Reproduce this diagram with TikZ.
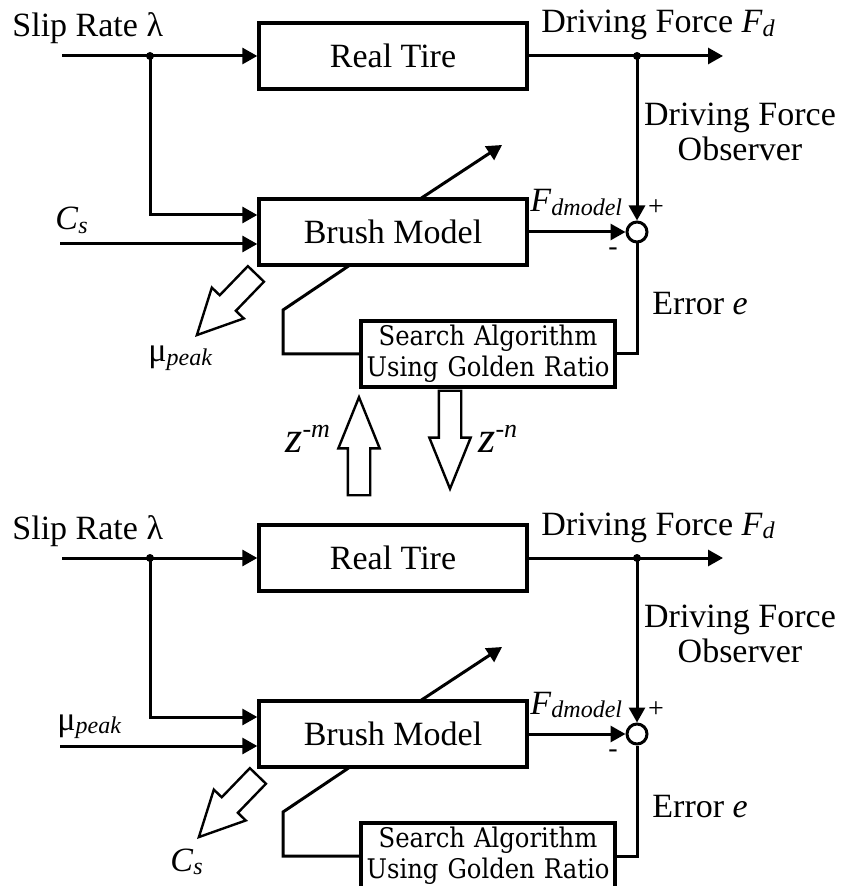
\documentclass[tikz,border=0pt]{standalone}
\usepackage{fontspec}
\setmainfont{Liberation Serif}
\newfontfamily\searchfont[FakeStretch=0.9]{DejaVu Serif}
\usetikzlibrary{arrows.meta, shapes.arrows, backgrounds}
\tikzstyle{block} = [rectangle, minimum width=134pt, minimum height=33pt, text centered, draw=black, line width=1.7pt, fill=white, font=\fontsize{17}{20}\selectfont]
\tikzstyle{searchbox} = [rectangle, minimum width=127pt, minimum height=33pt, text width=125pt, align=center, inner sep=0pt, draw=black, line width=1.7pt, fill=white, font=\searchfont\fontsize{13.5}{15.5}\selectfont]
\tikzstyle{sum} = [circle, minimum size=10pt, inner sep=0pt, draw=black, line width=1.5pt, fill=white]
\tikzstyle{dot} = [circle, minimum size=4pt, inner sep=0pt, fill=black]
\tikzstyle{tag} = [inner sep=0pt, font=\fontsize{17}{17.5}\selectfont]
\tikzstyle{sign} = [inner sep=0pt, font=\fontsize{14}{16}\selectfont]
\tikzstyle{wire} = [line width=1.5pt]
\tikzstyle{arrow} = [line width=1.5pt, -{Triangle[length=7.5pt,width=8pt]}]
\tikzstyle{fatarrow} = [single arrow, draw=black, line width=1.2pt, fill=white, inner sep=5pt, anchor=tip]
\newcommand{\lowsub}[1]{\raisebox{-0.25ex}{\fontsize{12}{14}\selectfont\itshape #1}}
\newcommand{\zpow}[1]{{\fontsize{22}{24}\selectfont\itshape z}\raisebox{7.5pt}{\fontsize{13}{15}\selectfont\itshape #1}}

\begin{document}
\begin{tikzpicture}[x=0.5pt, y=-0.5pt]
    \useasboundingbox (0,0) rectangle (842,886);

    % Upper loop: nodes
    \node (tireA) [block] at (393,56) {Real Tire};
    \node (brushA) [block] at (393,232) {Brush Model};
    \node (searchA) [searchbox] at (488,354) {Search Algorithm\\Using Golden Ratio};
    \node (sumA) [sum] at (637,232) {};
    \node (splitA) [dot] at (150,56) {};
    \node (takeA) [dot] at (637,56) {};
    \coordinate (inA) at (62,56);
    \coordinate (outA) at (723,56);
    \coordinate (csA) at (60,244);
    \coordinate (bendA) at (283,310);
    \coordinate (tuneA) at (502,145);

    % Upper loop: labels
    \node (slipA) [tag, anchor=base west] at (12,37) {Slip Rate λ};
    \node (forceA) [tag, anchor=base west] at (541,33) {Driving Force \textit{F}\lowsub{d}};
    \node (obsA) [tag, align=center] at (740,132) {Driving Force\\Observer};
    \node (errA) [tag, anchor=base west] at (652,315) {Error \textit{e}};
    \node (csTagA) [tag, anchor=base west] at (55,230) {\textit{C}\lowsub{s}};
    \node (fmodA) [tag, anchor=base west] at (530,212) {\textit{F}\lowsub{dmodel}};
    \node (plusA) [sign] at (656,208) {+};
    \node (minusA) [sign] at (613,252) {-};
    \node (muTagA) [tag, anchor=base west] at (148,362) {μ\lowsub{peak}};

    % Upper loop: arrows
    \draw [arrow] (inA) -- (tireA.west);
    \draw [arrow] (splitA.center) |- ([yshift=8.5pt]brushA.west);
    \draw [arrow] (csA) -- ([yshift=-6pt]brushA.west);
    \draw [arrow] (tireA.east) -- (outA);
    \draw [arrow] (takeA.center) -- (sumA.north);
    \draw [arrow] (brushA.east) -- (sumA.west);
    \draw [wire] (sumA.south) |- (searchA.east);
    \begin{scope}[on background layer]
        \draw [arrow] (searchA.west) -| (bendA) -- (350,265) -- (420,199) -- (tuneA);
    \end{scope}
    \node (muOutA) [fatarrow, rotate=226, minimum height=42.5pt, minimum width=21pt, single arrow head extend=5.5pt, single arrow tip angle=53] at (195,337) {};

    % Exchange between the loops
    \node (upArrow) [fatarrow, rotate=90, minimum height=49pt, minimum width=19.5pt, single arrow head extend=4.75pt, single arrow tip angle=44] at (359,394) {};
    \node (downArrow) [fatarrow, rotate=-90, minimum height=49pt, minimum width=19.5pt, single arrow head extend=4.75pt, single arrow tip angle=44] at (450,492) {};
    \node (zmTag) [tag, anchor=base west] at (285,452) {\zpow{-m}};
    \node (znTag) [tag, anchor=base west] at (478,452) {\zpow{-n}};

    % Lower loop: nodes
    \node (tireB) [block] at (393,558) {Real Tire};
    \node (brushB) [block] at (393,734) {Brush Model};
    \node (searchB) [searchbox] at (488,856) {Search Algorithm\\Using Golden Ratio};
    \node (sumB) [sum] at (637,734) {};
    \node (splitB) [dot] at (150,558) {};
    \node (takeB) [dot] at (637,558) {};
    \coordinate (inB) at (62,558);
    \coordinate (outB) at (723,558);
    \coordinate (muB) at (60,746);
    \coordinate (bendB) at (283,812);
    \coordinate (tuneB) at (502,647);

    % Lower loop: labels
    \node (slipB) [tag, anchor=base west] at (12,539) {Slip Rate λ};
    \node (forceB) [tag, anchor=base west] at (541,535) {Driving Force \textit{F}\lowsub{d}};
    \node (obsB) [tag, align=center] at (740,634) {Driving Force\\Observer};
    \node (errB) [tag, anchor=base west] at (652,817) {Error \textit{e}};
    \node (muTagB) [tag, anchor=base west] at (57,730) {μ\lowsub{peak}};
    \node (fmodB) [tag, anchor=base west] at (530,714) {\textit{F}\lowsub{dmodel}};
    \node (plusB) [sign] at (656,710) {+};
    \node (minusB) [sign] at (613,754) {-};
    \node (csTagB) [tag, anchor=base west] at (170,871) {\textit{C}\lowsub{s}};

    % Lower loop: arrows
    \draw [arrow] (inB) -- (tireB.west);
    \draw [arrow] (splitB.center) |- ([yshift=8.5pt]brushB.west);
    \draw [arrow] (muB) -- ([yshift=-6pt]brushB.west);
    \draw [arrow] (tireB.east) -- (outB);
    \draw [arrow] (takeB.center) -- (sumB.north);
    \draw [arrow] (brushB.east) -- (sumB.west);
    \draw [wire] (sumB.south) |- (searchB.east);
    \begin{scope}[on background layer]
        \draw [arrow] (searchB.west) -| (bendB) -- (350,767) -- (420,701) -- (tuneB);
    \end{scope}
    \node (csOutB) [fatarrow, rotate=226, minimum height=42.5pt, minimum width=21pt, single arrow head extend=5.5pt, single arrow tip angle=53] at (197,839) {};

\end{tikzpicture}
\end{document}
